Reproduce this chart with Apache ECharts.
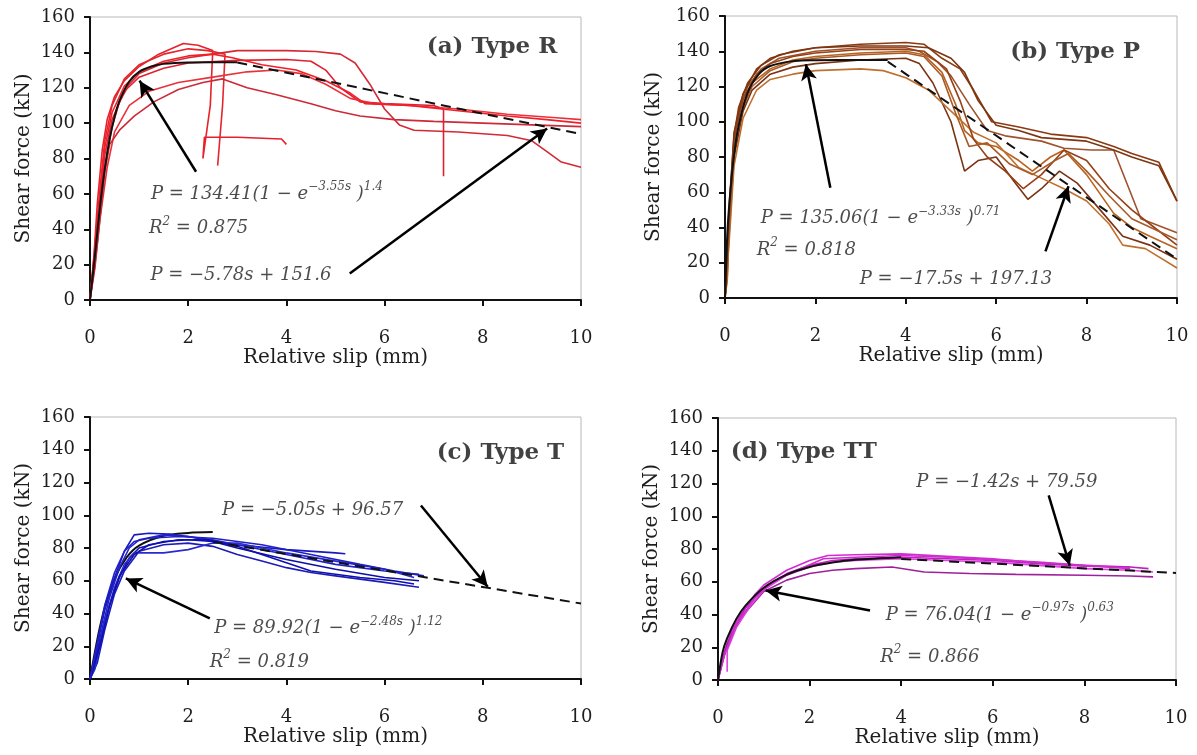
<!DOCTYPE html>
<html>
<head>
<meta charset="utf-8">
<script src="https://cdn.jsdelivr.net/npm/echarts@6/dist/echarts.min.js"></script>
<style>
html,body{margin:0;padding:0;background:#fff;}
#main{width:1197px;height:755px;}
</style>
</head>
<body>
<div id="main"></div>
<script>
// ---------- tick labels / axis settings ----------
const X_MIN = 0, X_MAX = 10, X_STEP = 2;
const Y_MIN = 0, Y_MAX = 160, Y_STEP = 20;
const X_NAME = 'Relative slip (mm)';
const Y_NAME = 'Shear force (kN)';
const PANEL_TITLES = ['(a) Type R', '(b) Type P', '(c) Type T', '(d) Type TT'];

// ---------- (a) Type R : test curves ----------
const R1 = [[0,0],[0.08,25],[0.15,55],[0.25,85],[0.35,102],[0.5,115],[0.7,124],[1,132],[1.4,139],[1.9,145],[2.2,144],[2.5,141],[2.45,110],[2.3,80],[2.33,92],[3,92],[3.9,91],[4.0,88]];
const R2 = [[0,0],[0.1,30],[0.2,62],[0.3,90],[0.45,110],[0.7,125],[1,133],[1.5,139],[2,142],[2.4,141],[2.75,139],[2.7,110],[2.6,76]];
const R3 = [[0,0],[0.1,22],[0.2,50],[0.3,75],[0.45,98],[0.6,112],[0.8,122],[1,128],[1.5,134],[2,137],[2.5,139],[3,141],[4,141],[4.6,140.5],[5.1,139],[5.4,134],[5.7,122],[6,108],[6.3,99],[6.6,96],[7.5,95],[8.5,93],[9,90],[9.3,84],[9.6,78],[10,75]];
const R4 = [[0,0],[0.1,26],[0.2,56],[0.3,82],[0.45,102],[0.7,118],[1,126],[1.5,131],[2,134],[3,135.5],[4,136],[4.5,135],[4.8,130],[5.1,120],[5.5,112],[6,111],[7,110],[7.2,108],[7.2,70]];
const R5 = [[0,0],[0.1,20],[0.2,45],[0.35,75],[0.5,95],[0.8,110],[1.2,118],[1.8,123],[2.5,126],[3.2,129],[3.8,130],[4.3,128],[4.8,122],[5.3,114],[5.8,111],[6.5,110],[7.5,108],[8.5,105],[9.5,103],[10,102]];
const R6 = [[0,0],[0.1,18],[0.2,45],[0.3,72],[0.4,88],[0.6,96],[0.9,104],[1.3,112],[1.8,119],[2.3,123],[2.7,125],[3.2,120],[3.8,116],[4.5,111],[5,107],[5.5,104],[6.2,102],[7,101],[8,100],[9,99],[10,98]];
const R7 = [[0,0],[0.1,28],[0.2,58],[0.3,86],[0.45,106],[0.7,121],[1,129],[1.5,135],[2,138],[2.5,139],[2.9,137],[3.5,133],[4.2,130],[4.8,124],[5.3,117],[5.6,111],[6.5,110],[7.5,107],[8.5,104],[9.3,102],[10,100]];
const R_FIT_EXP = [[0,0],[0.1,25],[0.2,52],[0.3,74],[0.4,91],[0.5,103.5],[0.6,112.6],[0.8,123.5],[1,129],[1.25,132],[1.5,133.5],[2,134.3],[2.5,134.4],[3,134.4]];
const R_FIT_LIN = [[3,134.3],[10,93.8]];

// ---------- (b) Type P : test curves ----------
const P1 = [[0,0],[0.05,15],[0.1,55],[0.2,92],[0.3,108],[0.5,122],[0.8,132],[1.2,138],[2,142],[3,144],[4,145],[4.4,144],[4.8,136],[5.2,130],[5.5,118],[5.9,100],[6.5,97],[7.2,93],[8,91],[8.6,86],[9,82],[9.6,77],[10,55]];
const P2 = [[0,0],[0.05,12],[0.1,50],[0.2,88],[0.3,105],[0.5,120],[0.8,130],[1.2,136],[2,140],[3,142],[4,142],[4.3,140],[4.7,134],[5,126],[5.4,110],[5.8,95],[6.2,92],[7,89],[7.5,85],[8.1,84],[8.6,84],[9.2,45],[10,37]];
const P3 = [[0,0],[0.05,10],[0.1,45],[0.2,85],[0.4,110],[0.6,122],[1,130],[1.5,135],[2,137],[3,139],[4,140],[4.4,138],[4.8,128],[5.1,110],[5.3,95],[5.6,88],[6,86],[6.5,78],[6.8,72],[7.2,80],[7.5,84],[8,70],[8.6,48],[9,40],[9.4,35],[10,28]];
const P4 = [[0,0],[0.1,40],[0.2,80],[0.4,106],[0.6,118],[1,127],[1.5,131],[2,133],[3,135],[4,136],[4.3,133],[4.6,122],[5,100],[5.3,72],[5.6,78],[6,80],[6.4,66],[6.7,56],[7,62],[7.4,72],[7.8,65],[8.3,50],[8.8,35],[9.4,30],[10,22]];
const P5 = [[0,0],[0.1,35],[0.2,75],[0.4,102],[0.7,118],[1,124],[1.5,127],[2,129],[3,130],[3.5,129],[4,125],[4.5,118],[5,106],[5.5,94],[6,88],[6.5,74],[7,68],[7.5,62],[8,55],[8.5,42],[8.8,30],[9.3,28],[10,17]];
const P6 = [[0,0],[0.1,48],[0.2,90],[0.4,113],[0.7,127],[1,133],[1.5,137],[2,139],[3,141],[4,141],[4.4,140],[4.9,130],[5.2,112],[5.5,90],[5.8,80],[6.2,72],[6.6,62],[7,70],[7.5,84],[8,78],[8.5,62],[9,50],[9.5,40],[10,30]];
const P7 = [[0,0],[0.1,42],[0.2,86],[0.4,108],[0.6,120],[1,129],[1.5,134],[2,136],[3,138],[4,139],[4.4,137],[4.8,126],[5.1,105],[5.4,86],[5.8,88],[6.3,76],[6.8,70],[7.3,78],[7.6,82],[8,72],[8.5,58],[9,45],[10,33]];
const P8 = [[0,0],[0.1,52],[0.2,94],[0.4,116],[0.7,130],[1,136],[1.5,140],[2,142],[3,143],[4,143],[4.5,142],[5,136],[5.3,128],[5.6,112],[6,98],[6.5,95],[7,91],[7.5,90],[8,89],[8.6,84],[9,80],[9.6,75],[10,55]];
const P_FIT_EXP = [[0,0],[0.05,35.7],[0.1,55],[0.2,81],[0.3,97.5],[0.5,116.4],[0.75,127],[1,131.6],[1.5,134.4],[2,134.9],[3,135],[3.6,135.06]];
const P_FIT_LIN = [[3.6,134.1],[10,22.1]];

// ---------- (c) Type T : test curves ----------
const T1 = [[0,0],[0.1,12],[0.2,28],[0.3,42],[0.5,62],[0.7,78],[0.9,88],[1.2,89],[1.6,88.5],[2,87],[2.5,84],[3,82],[4,79],[5,77],[5.2,76.5]];
const T2 = [[0,0],[0.1,10],[0.2,25],[0.4,50],[0.6,68],[0.8,80],[1,85],[1.5,88],[2,87],[2.5,85],[3,82],[4,76],[5,70],[6,66],[6.7,64]];
const T3 = [[0,0],[0.1,8],[0.2,22],[0.4,45],[0.6,62],[0.8,74],[1,80],[1.5,84],[2,85],[2.5,84],[3,80],[4,73],[5,67],[6,62],[6.7,60]];
const T4 = [[0,0],[0.15,10],[0.3,30],[0.5,52],[0.7,66],[1,78],[1.5,82],[2,83],[2.5,81],[3,76],[3.5,72],[4,68],[4.5,65],[5,63],[6,59],[6.7,56]];
const T5 = [[0,0],[0.1,6],[0.3,35],[0.5,56],[0.7,70],[0.9,77],[1.1,77],[1.5,77],[2,79],[2.5,83],[3,83],[3.5,80],[4,77],[5,72],[6,67],[6.6,62]];
const T6 = [[0,0],[0.2,20],[0.4,45],[0.6,63],[0.9,76],[1.2,82],[1.8,85],[2.4,85],[3,81],[3.5,76],[4,71],[4.5,66],[5,64],[5.5,62],[6.2,60],[6.6,58]];
const T7 = [[0,0],[0.1,15],[0.3,45],[0.5,65],[0.7,78],[0.9,84],[1.2,86],[1.8,87],[2.5,86],[3,84],[3.5,82],[4.5,76],[5.5,70],[6.2,66],[6.8,63]];
const T_FIT_EXP = [[0,0],[0.1,16.5],[0.2,31.4],[0.3,43.7],[0.5,61.3],[0.75,74.4],[1,81.5],[1.5,87.5],[2,89.2],[2.5,89.7]];
const T_FIT_LIN = [[2.5,83.9],[10,46.1]];

// ---------- (d) Type TT : test curves ----------
const TT1 = [[0,0],[0.1,14],[0.3,30],[0.5,40],[0.8,52],[1,58],[1.5,67],[2,73],[2.4,76],[3,76.5],[4,77],[5,75.5],[6,74],[7,71.5],[8,70],[9,69]];
const TT2 = [[0,0],[0.1,12],[0.3,28],[0.6,44],[1,56],[1.5,65],[2,70],[2.5,73],[3,74],[4,75],[5,74],[6,73],[7,71],[8,69.5],[9,69],[9.4,68]];
const TT3 = [[0,0],[0.2,22],[0.5,38],[1,54],[1.5,61],[2,65],[2.5,67],[3,68],[3.8,69],[4.5,66],[5.5,65],[6.5,64.5],[8,64],[9,63.5],[9.5,63]];
const TT4 = [[0.2,5],[0.2,18],[0.4,32],[0.7,45],[1,55],[1.5,64],[2,69],[2.5,72],[3,73],[4,74],[5,73],[6,72],[7,70],[8,68],[9,67],[9.5,66]];
const TT5 = [[0,0],[0.15,16],[0.4,34],[0.8,50],[1.2,60],[1.8,68],[2.3,74],[3,75],[4,76],[5,75],[6,73.5],[7,72],[8,70],[9,68]];
const TT_FIT_EXP = [[0,0],[0.1,17],[0.2,25.5],[0.4,37.2],[0.6,45.4],[1,56.3],[1.5,64.3],[2,69],[2.5,71.7],[3,73.4],[4,75]];
const TT_FIT_LIN = [[4,73.9],[10,65.4]];

// ---------- annotations (data coordinates) ----------
const ARROWS = [
  [[2.16,72.5],[1.01,124]], [[5.29,15],[9.31,97]],
  [[2.33,62.5],[1.79,132.6]], [[7.09,26.5],[7.6,63.4]],
  [[2.44,37],[0.73,61.4]], [[6.74,106],[8.1,56.3]],
  [[3.32,42.4],[1.04,54.6]], [[7.22,112.7],[7.68,69.9]]
];
const TITLE_POS = [[6.85,143],[6.3,139.7],[7.05,138],[0.27,139.4]];
const EQ_TEXT = [
  [{p:[1.23,61], t:'{i|P = 134.41(1 − e}{s|−3.55s}{i| )}{s|1.4}'}, {p:[1.19,41.4], t:'{i|R}{s|2}{i| = 0.875}'}, {p:[1.22,15], t:'{i|P = −5.78s + 151.6}'}],
  [{p:[0.78,46.2], t:'{i|P = 135.06(1 − e}{s|−3.33s}{i| )}{s|0.71}'}, {p:[0.69,28.3], t:'{i|R}{s|2}{i| = 0.818}'}, {p:[2.97,12], t:'{i|P = −17.5s + 197.13}'}],
  [{p:[2.68,104], t:'{i|P = −5.05s + 96.57}'}, {p:[2.52,32], t:'{i|P = 89.92(1 − e}{s|−2.48s}{i| )}{s|1.12}'}, {p:[2.43,11.6], t:'{i|R}{s|2}{i| = 0.819}'}],
  [{p:[4.32,122], t:'{i|P = −1.42s + 79.59}'}, {p:[3.65,40.8], t:'{i|P = 76.04(1 − e}{s|−0.97s}{i| )}{s|0.63}'}, {p:[3.53,15.3], t:'{i|R}{s|2}{i| = 0.866}'}]
];

// ---------- layout / style ----------
const FONT = 'DejaVu Serif';
const TXT = '#1e1e1e';
const GRIDS = [
  {left:90, top:17, width:491, height:283},
  {left:725, top:16, width:452, height:282},
  {left:90, top:417, width:491, height:262},
  {left:718, top:418, width:458, height:262}
];
const Y_NAME_GAP = [56, 61, 56, 56];
const PANELS = [
  {curves:[R1,R2,R3,R4,R5,R6,R7], colors:['#e8202a','#e4262e','#d42a36','#e02030','#e8323a','#cc2a38','#f0202a'], exp:R_FIT_EXP, lin:R_FIT_LIN, expZ:3},
  {curves:[P1,P2,P3,P4,P5,P6,P7,P8], colors:['#8a3a12','#a0522d','#b8621e','#7a3212','#c0702e','#944018','#a85a28','#7e3610'], exp:P_FIT_EXP, lin:P_FIT_LIN, expZ:3},
  {curves:[T1,T2,T3,T4,T5,T6,T7], colors:['#1818c0','#2222cc','#0e0ea8','#1c1cb8','#2a2ad0','#1010b0','#2020c4'], exp:T_FIT_EXP, lin:T_FIT_LIN, expZ:1},
  {curves:[TT1,TT2,TT3,TT4,TT5], colors:['#d42ad4','#c020c0','#a0209c','#e040e0','#cc30cc'], exp:TT_FIT_EXP, lin:TT_FIT_LIN, expZ:3}
];

const grid = GRIDS.map(g => Object.assign({show:true, borderColor:'#b8b8b8', borderWidth:1, backgroundColor:'#fff', containLabel:false}, g));
const xAxis = GRIDS.map((g,i) => ({
  type:'value', gridIndex:i, min:X_MIN, max:X_MAX, interval:X_STEP,
  name:X_NAME, nameLocation:'middle', nameGap:46,
  nameTextStyle:{fontFamily:FONT, fontSize:20, color:TXT},
  axisLine:{show:true, onZero:false, lineStyle:{color:'#111', width:2}},
  axisTick:{show:true, length:6, lineStyle:{color:'#111', width:2}},
  axisLabel:{margin:29, fontFamily:FONT, fontSize:18, color:TXT},
  splitLine:{show:false}
}));
const yAxis = GRIDS.map((g,i) => ({
  type:'value', gridIndex:i, min:Y_MIN, max:Y_MAX, interval:Y_STEP,
  name:Y_NAME, nameLocation:'middle', nameGap:Y_NAME_GAP[i], nameRotate:90,
  nameTextStyle:{fontFamily:FONT, fontSize:20, color:TXT},
  axisLine:{show:true, onZero:false, lineStyle:{color:'#111', width:2}},
  axisTick:{show:true, length:6, lineStyle:{color:'#111', width:2}},
  axisLabel:{margin:15, fontFamily:FONT, fontSize:18, color:TXT},
  splitLine:{show:false}
}));

const richStyle = {
  i:{fontFamily:FONT, fontStyle:'italic', fontSize:18, color:TXT, lineHeight:22, verticalAlign:'bottom'},
  s:{fontFamily:FONT, fontStyle:'italic', fontSize:12, color:TXT, lineHeight:12, verticalAlign:'top'}
};

const series = [];
PANELS.forEach((p, i) => {
  p.curves.forEach((c, k) => {
    series.push({type:'line', xAxisIndex:i, yAxisIndex:i, data:c, symbol:'none', silent:true, z:2,
      lineStyle:{color:p.colors[k % p.colors.length], width:1.6}});
  });
  series.push({type:'line', xAxisIndex:i, yAxisIndex:i, data:p.exp, symbol:'none', silent:true, smooth:0.3, z:p.expZ,
    lineStyle:{color:'#111', width:2}});
  series.push({type:'line', xAxisIndex:i, yAxisIndex:i, data:p.lin, symbol:'none', silent:true, z:3,
    lineStyle:{color:'#111', width:2, type:[10,6]},
    markLine:{silent:true, symbol:['none','arrow'], symbolSize:[12,16], animation:false,
      label:{show:false}, lineStyle:{color:'#000', width:2.5, type:'solid'},
      data:ARROWS.slice(i*2, i*2+2).map(a => [{coord:a[0]},{coord:a[1]}])}
  });
  // panel title
  series.push({type:'scatter', xAxisIndex:i, yAxisIndex:i, symbolSize:1, silent:true, z:5,
    itemStyle:{color:'rgba(0,0,0,0)'},
    data:[{value:TITLE_POS[i]}],
    label:{show:true, position:'right', distance:0, formatter:PANEL_TITLES[i],
      fontFamily:FONT, fontWeight:'bold', fontSize:23, color:'#111'}
  });
  // equations
  series.push({type:'scatter', xAxisIndex:i, yAxisIndex:i, symbolSize:1, silent:true, z:5,
    itemStyle:{color:'rgba(0,0,0,0)'},
    data:EQ_TEXT[i].map(e => ({value:e.p, label:{formatter:e.t}})),
    label:{show:true, position:'right', distance:0, rich:richStyle}
  });
});

const chart = echarts.init(document.getElementById('main'), null, {renderer:'canvas'});
chart.setOption({animation:false, backgroundColor:'#fff', grid, xAxis, yAxis, series});
</script>
</body>
</html>
